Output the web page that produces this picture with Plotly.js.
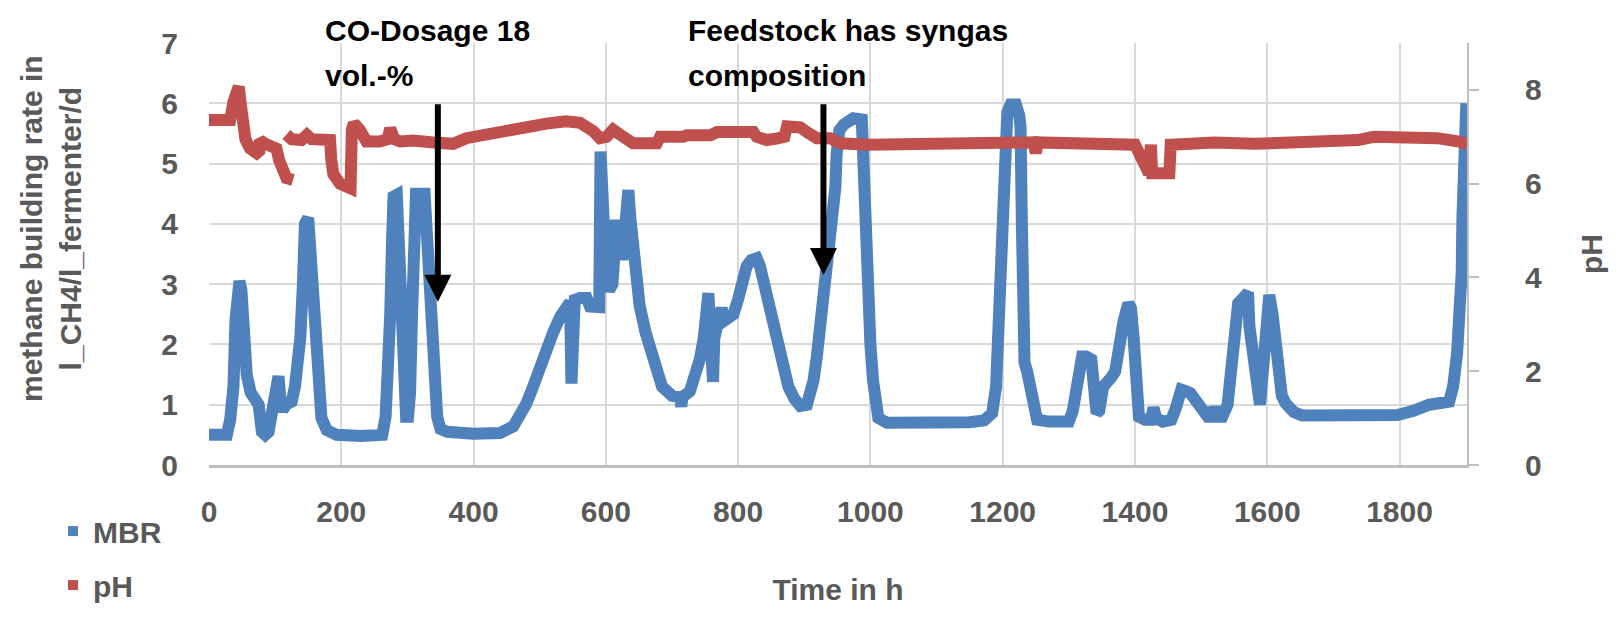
<!DOCTYPE html>
<html>
<head>
<meta charset="utf-8">
<script src="https://cdn.plot.ly/plotly-3.0.1.min.js"></script>
<style>html,body{margin:0;padding:0;background:#fff;}#chart{width:1623px;height:635px;}</style>
</head>
<body>
<div id="chart"></div>
<script>
// ---- Data ----
const mbrTime = [0,27,32,37,40,43,46,49,52,57,63,70,75,80,85,90,95,100,105,108,111,116,125,130,135,138,142,145,150,153,156,159,163,170,178,193,230,262,267,271,274,277,279,284,287,290,294,298,301,304,307,310,313,326,329,333,337,341,345,350,360,400,440,460,470,480,490,500,510,520,531,541,546,548,550,553,561,571,576,590,592,594,596,598,601,605,610,613,615,618,621,625,628,631,634,637,641,646,651,660,667,675,685,700,712,714,716,727,735,742,748,752,755,758,760,762,764,770,775,780,785,793,800,806,813,820,828,833,838,843,848,855,864,870,876,885,894,904,910,914,919,924,929,934,939,944,947,949,953,960,974,987,990,993,996,1000,1004,1008,1012,1025,1060,1100,1150,1172,1184,1190,1194,1198,1202,1207,1212,1220,1225,1227,1229,1230,1231,1233,1237,1242,1247,1252,1270,1300,1306,1310,1315,1320,1326,1334,1338,1342,1346,1352,1358,1364,1370,1376,1383,1390,1394,1398,1402,1406,1415,1424,1428,1432,1442,1455,1462,1467,1470,1478,1484,1490,1496,1503,1510,1518,1520,1523,1532,1540,1545,1550,1556,1562,1566,1571,1573,1576,1580,1585,1589,1593,1597,1600,1603,1608,1613,1617,1622,1628,1640,1653,1700,1737,1761,1797,1821,1845,1875,1881,1887,1890,1893,1894,1895,1896,1899,1901];
const mbrValue = [0.5,0.5,0.75,1.3,2.4,3.0,3.05,2.9,2.0,1.5,1.2,1.05,1.0,0.55,0.5,0.55,0.8,1.1,1.47,1.1,0.9,1.0,1.05,1.3,1.7,2.1,3.0,4.0,4.1,3.6,2.8,1.9,1.2,0.78,0.58,0.5,0.48,0.5,0.8,1.5,2.5,3.8,4.45,4.48,3.5,2.35,1.5,0.8,0.8,1.2,2.5,4.0,4.5,4.5,3.8,3.0,2.0,1.3,0.8,0.6,0.55,0.52,0.53,0.64,0.8,1.02,1.3,1.63,1.9,2.19,2.46,2.63,2.7,1.35,2.7,2.74,2.77,2.77,2.63,2.62,5.2,4.6,4.0,3.4,3.0,2.9,3.0,3.5,4.07,3.6,4.05,3.4,3.7,4.3,4.56,4.1,3.5,3.0,2.65,2.2,1.95,1.55,1.3,1.15,1.12,0.97,1.13,1.22,1.45,1.75,2.1,2.5,2.85,2.2,2.0,1.38,2.1,2.35,2.6,2.4,2.45,2.5,2.75,3.05,3.3,3.4,3.43,3.3,3.05,2.8,2.5,2.2,1.85,1.55,1.3,1.1,0.98,1.0,1.2,1.4,1.8,2.3,2.7,3.07,3.5,4.07,4.6,5.17,5.55,5.65,5.75,5.73,4.6,3.5,2.7,2.0,1.4,0.95,0.78,0.7,0.69,0.69,0.71,0.74,0.86,1.3,2.5,4.0,5.5,5.85,5.98,5.98,5.8,5.6,4.0,3.0,1.9,1.7,1.55,1.2,0.86,0.75,0.72,0.72,0.9,1.2,1.55,1.8,1.8,1.75,1.3,0.86,0.9,1.3,1.36,1.45,1.55,2.13,2.4,2.68,2.6,2.1,1.4,0.8,0.75,0.75,0.95,0.78,0.72,0.75,0.95,1.2,1.25,1.22,1.19,1.1,1.0,0.85,0.8,0.8,0.97,0.8,0.8,1.0,1.5,2.4,2.68,2.75,2.85,2.86,2.3,2.0,2.0,1.5,1.0,1.5,2.3,2.82,2.82,2.5,1.9,1.4,1.15,1.02,0.88,0.82,0.82,0.83,0.86,0.83,0.9,1.0,1.05,1.3,1.85,2.4,2.7,3.2,4.07,5.17,5.9,6.0];

const phTime = [0,32,37,41,45,48,51,55,62,72,76,77,85,95,102,106,110,117,127,null,117,125,140,148,155,183,185,188,198,208,214,216,219,228,238,258,270,274,280,289,309,339,369,389,410,435,460,485,510,540,561,581,591,601,611,621,631,641,677,682,717,722,758,768,793,823,828,843,858,870,874,894,904,919,939,954,995,1100,1197,1247,1250,1253,1400,1406,1412,1421,1424,1426,1440,1452,1454,1520,1580,1701,1737,1761,1797,1857,1890,1902];
const phValue = [7.36,7.36,7.75,8.07,8.07,7.7,7.3,6.95,6.75,6.65,6.7,6.93,6.85,6.82,6.75,6.5,6.29,6.12,6.08,null,7.05,6.95,6.93,7.04,6.95,6.93,6.5,6.2,6.0,5.9,5.9,7.15,7.29,7.15,6.9,6.9,6.95,7.18,6.95,6.9,6.92,6.88,6.85,6.97,7.03,7.1,7.2,7.27,7.28,7.33,7.3,7.12,6.97,7.0,7.15,7.05,6.93,6.86,6.86,7.0,7.0,7.03,7.03,7.1,7.1,7.1,7.0,6.93,6.96,7.0,7.22,7.2,7.1,6.97,6.97,6.86,6.83,6.84,6.83,6.88,6.65,6.88,6.83,6.65,6.37,6.22,6.83,6.22,6.22,6.22,6.83,6.88,6.85,6.88,6.93,7.0,7.0,6.97,6.9,6.83];

const seriesNames = ['MBR', 'pH'];
const xTickVals = [0,200,400,600,800,1000,1200,1400,1600,1800];
const yTickVals = [0,1,2,3,4,5,6,7];
const y2TickVals = [0,2,4,6,8];
const noteLines = [
  ['CO-Dosage 18', 'vol.-%'],
  ['Feedstock has syngas', 'composition']
];
const noteStart = [172, 721];
const arrowX = [346, 929];
const arrowTail = [6.01, 6.01];
const arrowTip = [2.71, 3.15];

// ---- Styling ----
const FONT = 'Liberation Sans, Arial, sans-serif';
const GRAY = '#595959';
const BLUE = '#4F81BD';
const RED = '#C0504D';
const tickFont = {family: FONT, size: 30, color: GRAY, weight: 'bold'};

const traces = [
  {x: mbrTime, y: mbrValue, name: seriesNames[0], type: 'scatter', mode: 'lines',
   line: {color: BLUE, width: 12}, showlegend: false, yaxis: 'y'},
  {x: phTime, y: phValue, name: seriesNames[1], type: 'scatter', mode: 'lines',
   line: {color: RED, width: 12}, showlegend: false, yaxis: 'y2', connectgaps: false},
  // legend entries (square markers, as in the reference legend)
  {x: [null], y: [null], name: seriesNames[0], type: 'scatter', mode: 'markers',
   marker: {color: BLUE, symbol: 'square', size: 10}, legendgroup: 'a', hoverinfo: 'skip'},
  {x: [null], y: [null], name: seriesNames[1], type: 'scatter', mode: 'markers',
   marker: {color: RED, symbol: 'square', size: 10}, legendgroup: 'b', hoverinfo: 'skip'}
];

// paper y for pixel rows 31 and 75 (plot area: top 43, bottom 465)
const lineY = [(465 - 31) / 422, (465 - 75) / 422];
const annotations = [];
noteLines.forEach((lines, i) => {
  lines.forEach((t, j) => {
    annotations.push({x: noteStart[i], xref: 'x', y: lineY[j], yref: 'paper', xanchor: 'left', yanchor: 'middle',
      text: t, align: 'left', showarrow: false,
      font: {family: FONT, size: 30, color: '#000000', weight: 'bold'}});
  });
  annotations.push({x: arrowX[i], y: arrowTip[i], xref: 'x', yref: 'y', ax: arrowX[i], ay: arrowTail[i],
    axref: 'x', ayref: 'y', text: '', showarrow: true, arrowhead: 2, arrowsize: 0.9,
    arrowwidth: 6, arrowcolor: '#000000', standoff: 0});
});
annotations.push({x: -0.1256, xref: 'paper', y: 0.5616, yref: 'paper', xanchor: 'center', yanchor: 'middle',
  text: 'methane building rate in<br>l_CH4/l_fermenter/d', textangle: -90, showarrow: false,
  font: {family: FONT, size: 30, color: GRAY, weight: 'bold'}});

const layout = {
  width: 1623, height: 635,
  margin: {l: 209, r: 156, t: 43, b: 170},
  paper_bgcolor: '#ffffff', plot_bgcolor: '#ffffff',
  showlegend: true,
  legend: {x: -0.124, xanchor: 'left', y: -0.095, yanchor: 'top', orientation: 'v',
    font: {family: FONT, size: 30, color: GRAY, weight: 'bold'}, tracegroupgap: 12,
    bgcolor: 'rgba(0,0,0,0)'},
  xaxis: {range: [0, 1902], tickvals: xTickVals, showgrid: true, gridcolor: '#D9D9D9', gridwidth: 2,
    zeroline: false, showline: true, linecolor: '#BFBFBF', linewidth: 3, ticks: '',
    tickfont: tickFont, ticklabelstandoff: 18,
    title: {text: 'Time in h', font: {family: FONT, size: 30, color: GRAY, weight: 'bold'}, standoff: 52}},
  yaxis: {range: [0, 7], tickvals: yTickVals, showgrid: true, gridcolor: '#D9D9D9', gridwidth: 2,
    zeroline: false, showline: false, ticks: '', tickfont: tickFont, ticklabelstandoff: 30},
  yaxis2: {range: [0, 9], tickvals: y2TickVals, overlaying: 'y', side: 'right', showgrid: false,
    zeroline: false, showline: true, linecolor: '#BFBFBF', linewidth: 2, ticks: 'outside', ticklen: 10,
    tickcolor: '#BFBFBF', tickwidth: 2, tickfont: tickFont, ticklabelstandoff: 40,
    title: {text: 'pH', font: {family: FONT, size: 30, color: GRAY, weight: 'bold'}, standoff: 40}},
  annotations: annotations
};

Plotly.newPlot('chart', traces, layout, {displayModeBar: false, responsive: false});
</script>
</body>
</html>
